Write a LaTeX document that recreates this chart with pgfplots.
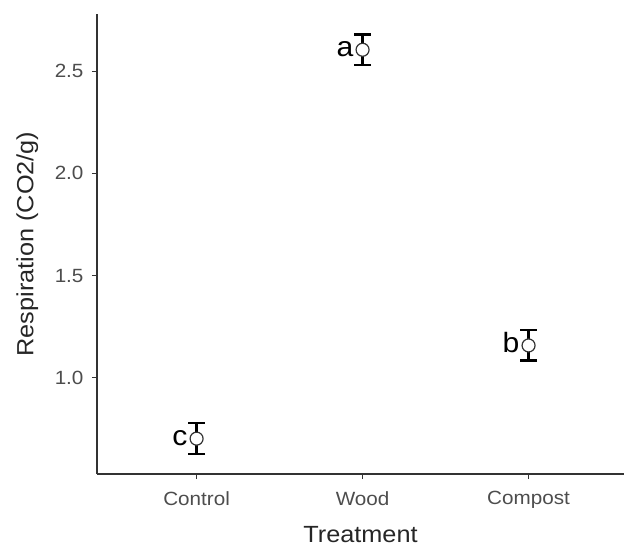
\documentclass[border=0pt]{standalone}
\usepackage{fontspec}
\setmainfont{Liberation Sans}[FakeStretch=1.08]
\usepackage{pgfplots}
\pgfplotsset{compat=1.18}
\definecolor{tickgray}{HTML}{4D4D4D}
\definecolor{axgray}{HTML}{333333}
\begin{document}
\begin{tikzpicture}
\useasboundingbox (0,0) rectangle (624bp,546bp);
\begin{axis}[
  at={(97bp,72bp)}, anchor=south west,
  scale only axis, width=527bp, height=460bp,
  xmin=0.4, xmax=3.575, ymin=0.529, ymax=2.78,
  axis x line=bottom, axis y line=left,
  axis line style={-, axgray, line width=1.1bp},
  xtick={1,2,3}, xticklabels={Control,Wood,Compost},
  ytick={1,1.5,2,2.5}, yticklabels={1.0,1.5,2.0,2.5},
  tick align=outside, major tick length=5bp,
  tick style={axgray, line width=1.1bp},
  ticklabel style={font=\fontsize{19.2}{20}\selectfont, text=tickgray},
  xticklabel style={yshift=-9bp},
  yticklabel style={xshift=-5bp},
  xlabel={Treatment}, ylabel={Respiration (CO2/g)},
  label style={font=\fontsize{23.5}{26}\selectfont, text=black!85},
  xlabel style={at={(axis description cs:0.5,-0.148)}, anchor=base, inner sep=0pt},
  ylabel style={at={(axis description cs:-0.1207,0.5)}, anchor=base, inner sep=0pt},
  clip=false,
]
\addplot[draw=none, mark=none,
  error bars/.cd, y dir=both, y explicit,
  error bar style={black, line width=2.3bp},
  error mark options={rotate=90, mark size=8.5bp, black, line width=2.3bp}]
  coordinates {
    (1,0.702) +- (0,0.075)
    (2,2.605) +- (0,0.074)
    (3,1.158) +- (0,0.074)
  };
\addplot[only marks, mark=*, mark size=6.5bp,
  mark options={fill=white, draw=black!80, line width=1.2bp}]
  coordinates {
    (1,0.702)
    (2,2.605)
    (3,1.158)
  };
\addplot[only marks, mark=none, point meta=explicit symbolic,
  nodes near coords={\pgfplotspointmeta},
  every node near coord/.append style={anchor=base east, inner sep=0pt,
    xshift=-9bp, yshift=-7bp, font=\fontsize{28}{30}\selectfont, text=black}]
  coordinates {
    (1,0.702) [c]
    (2,2.605) [a]
    (3,1.158) [b]
  };
\end{axis}
\end{tikzpicture}
\end{document}
